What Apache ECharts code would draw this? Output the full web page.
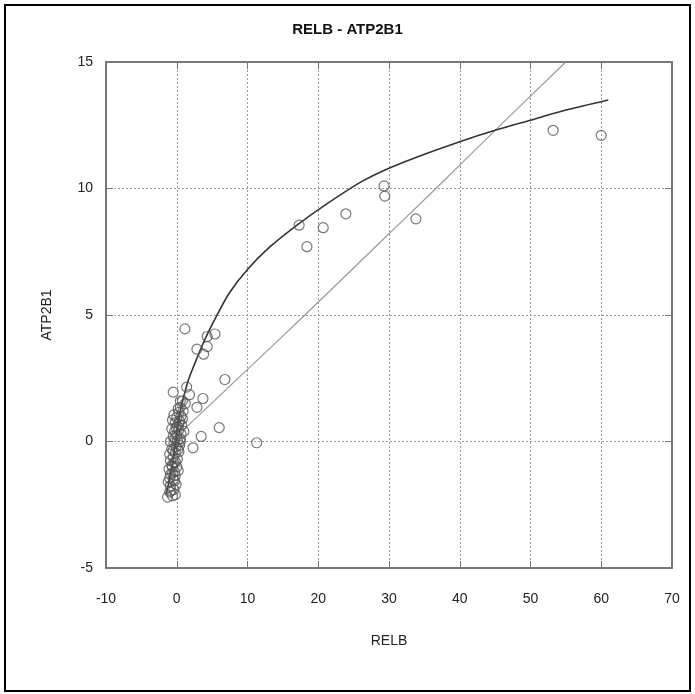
<!DOCTYPE html>
<html>
<head>
<meta charset="utf-8">
<script src="https://cdn.jsdelivr.net/npm/echarts@6/dist/echarts.min.js"></script>
<style>
html,body{margin:0;padding:0;background:#fff;}
#main{width:695px;height:694px;}
</style>
</head>
<body>
<div id="main"></div>
<script>
// 数据点 RELB (x) / ATP2B1 (y)
var relbVals = [60.0, 53.2, 33.8, 29.3, 29.4, 23.9, 20.7, 17.3, 18.4, 1.15, 5.4, 4.3, 2.85, 4.3, 3.8,
    6.8, -0.5, 1.4, 1.8, 3.7, 2.85, 6.0, 3.45, 11.3, 2.3, 0.5, 1.0,
    -1.3, -0.6, -0.2, -1.0, -0.4, -0.9, -0.1, -1.2, -0.5, -0.2, -0.9, -0.3, -1.1, -0.6, 0.0,
    -0.4, -0.9, 0.1, -0.5, -1.0, -0.2, 0.3, -0.7, -0.1, 0.4, -0.4, -0.9, 0.1, 0.5, -0.5,
    0.0, 0.6, -0.3, 0.3, -0.7, 0.1, 0.7, -0.2, 0.4, 0.0, 0.6, -0.4, 0.3, 0.9, 0.5, 1.2, 0.8,
    -0.8, -0.3, -1.0, -0.6, 0.2, -0.7, -0.2, -0.5, 0.2, -0.3, 0.5, -0.1, 0.3, -0.6, 0.2, 0.8];
var atpVals = [12.1, 12.3, 8.8, 10.1, 9.7, 9.0, 8.45, 8.55, 7.7, 4.45, 4.25, 4.15, 3.65, 3.75, 3.45,
    2.45, 1.95, 2.15, 1.85, 1.7, 1.35, 0.55, 0.2, -0.05, -0.25, 1.6, 0.4,
    -2.2, -2.15, -2.1, -2.0, -1.9, -1.75, -1.7, -1.6, -1.5, -1.35, -1.3, -1.2, -1.1, -1.0, -1.0,
    -0.85, -0.75, -0.7, -0.6, -0.5, -0.45, -0.4, -0.3, -0.2, -0.15, -0.05, 0.0, 0.05, 0.1, 0.2,
    0.25, 0.3, 0.4, 0.45, 0.5, 0.6, 0.65, 0.75, 0.8, 0.95, 1.0, 1.05, 1.15, 1.2, 1.35, 1.5, 1.6,
    -1.95, -1.55, -1.45, -1.25, -1.15, -0.95, -0.8, -0.35, -0.3, 0.1, 0.0, 0.55, 0.7, 0.85, 1.3, 0.9];

// 拟合曲线 (深色)
var fitX = [-1.5, -0.7, 0, 0.5, 1.5, 2.5, 4, 5.6, 7.5, 10, 13, 17, 21, 26, 30, 35, 40, 45, 50, 55, 61];
var fitY = [-2.1, -1.0, 0.3, 1.2, 2.3, 3.05, 4.05, 4.95, 5.9, 6.8, 7.65, 8.55, 9.35, 10.25, 10.8, 11.35, 11.85, 12.3, 12.7, 13.1, 13.5];
// 线性趋势 (浅色)
var trendX = [0.3, 1.4, 10, 18, 27, 37, 45, 55];
var trendY = [0.3, 0.58, 2.85, 4.97, 7.4, 10.1, 12.3, 15.0];

var xTicks = [-10, 0, 10, 20, 30, 40, 50, 60, 70];
var yTicks = [-5, 0, 5, 10, 15];

function zip(a, b) {
    var arr = [];
    a.forEach(function (v, i) { arr.push([v, b[i]]); });
    return arr;
}

var font = 'Liberation Sans, Arial, sans-serif';
var myChart = echarts.init(document.getElementById('main'));

var axisBase = {
    type: 'value',
    axisLine: {show: true, onZero: false, lineStyle: {color: '#777', width: 2}},
    axisTick: {show: true, inside: true, length: 7, lineStyle: {color: '#777', width: 1}},
    splitLine: {show: false}
};

var option = {
    backgroundColor: '#fff',
    animation: false,
    title: {
        text: 'RELB - ATP2B1',
        left: 'center',
        top: 17,
        textStyle: {fontFamily: font, fontSize: 15, fontWeight: 'bold', color: '#111'}
    },
    grid: {left: 106, right: 23, top: 62, bottom: 126},
    xAxis: [
        Object.assign({}, axisBase, {
            min: xTicks[0], max: xTicks[xTicks.length - 1], interval: 10,
            position: 'bottom',
            name: 'RELB', nameLocation: 'middle', nameGap: 66,
            nameTextStyle: {fontFamily: font, fontSize: 14, color: '#222'},
            axisLabel: {margin: 24, fontFamily: font, fontSize: 14, color: '#222'},
            splitLine: {show: true, lineStyle: {color: '#999', type: [2, 2], width: 1}}
        }),
        Object.assign({}, axisBase, {
            min: xTicks[0], max: xTicks[xTicks.length - 1], interval: 10,
            position: 'top', axisLabel: {show: false}
        })
    ],
    yAxis: [
        Object.assign({}, axisBase, {
            min: yTicks[0], max: yTicks[yTicks.length - 1], interval: 5,
            position: 'left',
            name: 'ATP2B1', nameLocation: 'middle', nameGap: 52,
            nameTextStyle: {fontFamily: font, fontSize: 14, color: '#222'},
            axisLabel: {margin: 13, fontFamily: font, fontSize: 14, color: '#222'},
            splitLine: {show: true, lineStyle: {color: '#999', type: [2, 2], width: 1}}
        }),
        Object.assign({}, axisBase, {
            min: yTicks[0], max: yTicks[yTicks.length - 1], interval: 5,
            position: 'right', axisLabel: {show: false}
        })
    ],
    graphic: [{
        type: 'rect',
        shape: {x: 5, y: 5, width: 685, height: 686},
        style: {fill: 'none', stroke: '#000', lineWidth: 2},
        silent: true
    }],
    series: [
        {
            type: 'line',
            data: zip(trendX, trendY),
            showSymbol: false,
            smooth: 0.3,
            clip: true,
            lineStyle: {color: '#999', width: 1.2},
            z: 3
        },
        {
            type: 'line',
            data: zip(fitX, fitY),
            showSymbol: false,
            smooth: 0.3,
            clip: true,
            lineStyle: {color: '#333', width: 1.6},
            z: 3
        },
        {
            type: 'scatter',
            data: zip(relbVals, atpVals),
            symbol: 'circle',
            symbolSize: 10,
            itemStyle: {color: 'rgba(0,0,0,0)', borderColor: '#555', borderWidth: 1.2},
            z: 4
        }
    ]
};

myChart.setOption(option);
</script>
</body>
</html>
